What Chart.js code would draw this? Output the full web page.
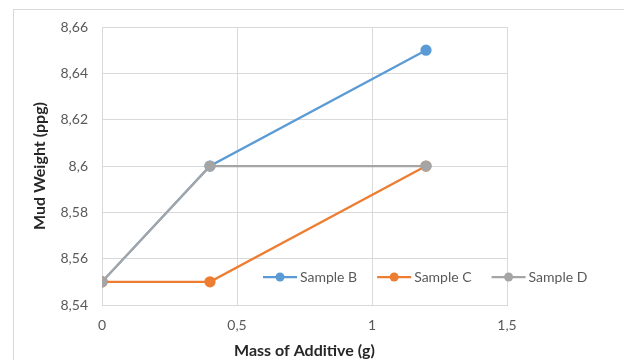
<!DOCTYPE html>
<html>
<head>
<meta charset="utf-8">
<script src="https://cdn.jsdelivr.net/npm/chart.js@4"></script>
<style>
  html, body { margin: 0; padding: 0; background: #fff; }
  #wrap { width: 624px; height: 360px; }
</style>
</head>
<body>
<div id="wrap"><canvas id="chart" width="624" height="360"></canvas></div>
<script>
const massAdditive = [0, 0.4, 1.2];
const sampleB = [8.55, 8.6, 8.65];
const sampleC = [8.55, 8.55, 8.6];
const sampleD = [8.55, 8.6, 8.6];
const seriesNames = ['Sample B', 'Sample C', 'Sample D'];
const seriesColors = ['#5B9BD5', '#ED7D31', '#A5A5A5'];

const FONT = 'Lato, "Open Sans", sans-serif';
const comma = v => Number(Number(v).toFixed(2)).toString().replace('.', ',');

function pts(ys) {
  return massAdditive.map((x, i) => ({ x: x, y: ys[i] }));
}

const frame = {
  id: 'frame',
  beforeDraw(chart) {
    const c = chart.ctx;
    c.save();
    c.strokeStyle = '#d9d9d9';
    c.lineWidth = 1;
    c.strokeRect(13.5, 9.5, 700, 400);
    c.restore();
  }
};

// Excel style legend sitting inside the plot, bottom right
const insideLegend = {
  id: 'insideLegend',
  afterDraw(chart) {
    const c = chart.ctx;
    let x = 263;
    const y = 277;
    c.save();
    c.font = '14px ' + FONT;
    c.textBaseline = 'middle';
    chart.data.datasets.forEach(ds => {
      c.strokeStyle = ds.borderColor;
      c.lineWidth = 2.25;
      c.beginPath();
      c.moveTo(x, y);
      c.lineTo(x + 34, y);
      c.stroke();
      c.fillStyle = ds.borderColor;
      c.beginPath();
      c.arc(x + 17, y, 4.5, 0, Math.PI * 2);
      c.fill();
      c.fillStyle = '#595959';
      c.fillText(ds.label, x + 37, y);
      x += 37 + c.measureText(ds.label).width + 20;
    });
    c.restore();
  }
};

new Chart(document.getElementById('chart'), {
  type: 'line',
  data: {
    datasets: [sampleB, sampleC, sampleD].map((ys, i) => ({
      label: seriesNames[i],
      data: pts(ys),
      order: 3 - i, // later series on top, like Excel
      borderColor: seriesColors[i],
      backgroundColor: seriesColors[i],
      borderWidth: 2.25,
      pointRadius: 4.5,
      pointHoverRadius: 4.5,
      tension: 0
    }))
  },
  options: {
    responsive: false,
    animation: false,
    layout: { padding: { left: 28, right: 117, top: 27, bottom: 0 } },
    plugins: {
      legend: { display: false },
      tooltip: { enabled: false }
    },
    scales: {
      x: {
        type: 'linear',
        min: 0,
        max: 1.5,
        ticks: {
          stepSize: 0.5,
          padding: 12,
          color: '#595959',
          font: { family: FONT, size: 14 },
          callback: comma
        },
        grid: { color: '#d9d9d9', drawTicks: false },
        border: { color: '#d9d9d9' },
        title: {
          display: true,
          text: 'Mass of Additive (g)',
          color: '#262626',
          font: { family: FONT, size: 16, weight: 'bold' },
          padding: { top: 0, bottom: 0 }
        },
        afterFit(s) { s.height = 55; }
      },
      y: {
        min: 8.54,
        max: 8.66,
        ticks: {
          stepSize: 0.02,
          padding: 14,
          color: '#595959',
          font: { family: FONT, size: 14 },
          callback: comma
        },
        grid: { color: '#d9d9d9', drawTicks: false },
        border: { color: '#d9d9d9' },
        title: {
          display: true,
          text: 'Mud Weight (ppg)',
          color: '#262626',
          font: { family: FONT, size: 16, weight: 'bold' },
          padding: { top: 2, bottom: 0 }
        },
        afterFit(s) { s.width = 74; }
      }
    }
  },
  plugins: [frame, insideLegend]
});
</script>
</body>
</html>
